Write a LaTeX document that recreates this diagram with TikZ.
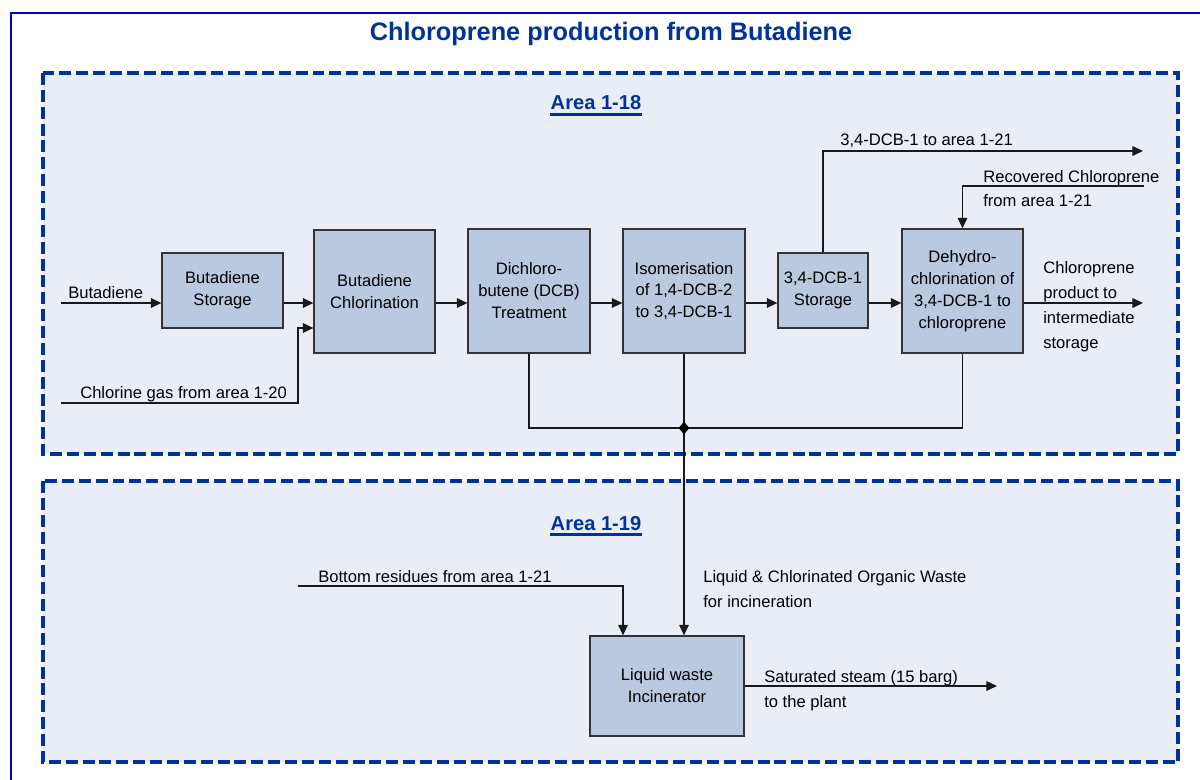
\documentclass[tikz,border=0pt]{standalone}
\usepackage{fontspec}
\setmainfont{Liberation Sans}
\usetikzlibrary{arrows.meta,shapes.geometric,calc}
\definecolor{framecol}{RGB}{0,0,204}
\definecolor{areacol}{RGB}{0,51,153}
\definecolor{areafill}{RGB}{233,237,245}
\definecolor{boxfill}{RGB}{185,201,224}
\newcommand\pxu{0.025cm}
\newcommand\boxfont{\fontsize{11.8}{15.6}\selectfont}
\newcommand\lblfont{\fontsize{11.8}{17.7}\selectfont}
\newcommand\titlefnt{\fontsize{18}{22}\selectfont\bfseries}
\newcommand\areafnt{\fontsize{14.3}{17}\selectfont\bfseries}
\tikzset{
  pbox/.style={draw=black!80, line width=0.9pt, fill=boxfill, align=center, inner sep=0pt, font=\boxfont},
  conn/.style={draw=black!90, line width=0.9pt},
  arr/.style={conn, -{Triangle[length=7.5pt,width=6.8pt]}},
  lbl/.style={inner sep=0pt, anchor=base west, align=left, font=\lblfont},
  areabox/.style={draw=areacol, line width=2.2pt, dash pattern=on 8.5pt off 3.5pt, fill=areafill},
  arealbl/.style={text=areacol, font=\areafnt, inner sep=0pt, anchor=base},
  ulin/.style={draw=areacol, line width=1.5pt},
}
\begin{document}
\begin{tikzpicture}[x=0.025cm,y=-0.025cm]
\useasboundingbox (0,0) rectangle (1200,780);
\clip (0,0) rectangle (1200,780);
\fill[white] (0,0) rectangle (1200,780);
% outer frame
\draw[framecol, line width=2.1pt] (11,800) -- (11,13) -- (1230,13);
% title
\node[font=\titlefnt, text=areacol, anchor=base, inner sep=0pt] (title) at (611,41) {Chloroprene production from Butadiene};
% areas
\draw[areabox] (43,73) rectangle (1178,454);
\draw[areabox] (43,481) rectangle (1178,762);
\node[arealbl] (a18) at (596,110) {Area 1-18};
\draw[ulin] ($(a18.base west)+(0,4.5)$) -- ($(a18.base east)+(0,4.5)$);
\node[arealbl] (a19) at (596,530) {Area 1-19};
\draw[ulin] ($(a19.base west)+(0,4.5)$) -- ($(a19.base east)+(0,4.5)$);
% process boxes
\node[pbox, minimum width=121*\pxu, minimum height=75*\pxu] (bst) at (222.5,290.5) {Butadiene\\Storage};
\node[pbox, minimum width=121*\pxu, minimum height=123*\pxu] (chl) at (374.5,291.5) {Butadiene\\Chlorination};
\node[pbox, minimum width=122*\pxu, minimum height=124*\pxu] (dcb) at (529,291) {Dichloro-\\butene (DCB)\\Treatment};
\node[pbox, minimum width=122*\pxu, minimum height=124*\pxu] (iso) at (684,291) {Isomerisation\\of 1,4-DCB-2\\to 3,4-DCB-1};
\node[pbox, minimum width=90*\pxu, minimum height=75*\pxu] (st34) at (823,290.5) {3,4-DCB-1\\Storage};
\node[pbox, minimum width=121*\pxu, minimum height=124*\pxu] (deh) at (962.5,291) {Dehydro-\\chlorination of\\3,4-DCB-1 to\\chloroprene};
\node[pbox, minimum width=154*\pxu, minimum height=100*\pxu] (inc) at (667,686) {Liquid waste\\Incinerator};
% free ends
\coordinate (lvl) at (0,303);
\coordinate (bin) at (61,303);
\coordinate (clin) at (61,403);
\coordinate (clturn) at (298,328);
\coordinate (dcbout) at (1143,151);
\coordinate (recin) at (1144,186);
\coordinate (prodout) at (1143,303);
\coordinate (junc) at (684,428);
\coordinate (resin) at (298,586);
\coordinate (steamout) at (997,686);
% connectors
\draw[arr] (bin) -- (bst.west |- lvl);
\draw[arr] (bst.east |- lvl) -- (chl.west |- lvl);
\draw[arr] (clin) -| (clturn) -- (chl.west |- clturn);
\draw[arr] (chl.east |- lvl) -- (dcb.west |- lvl);
\draw[arr] (dcb.east |- lvl) -- (iso.west |- lvl);
\draw[arr] (iso.east |- lvl) -- (st34.west |- lvl);
\draw[arr] (st34.east |- lvl) -- (deh.west |- lvl);
\draw[arr] (deh.east |- lvl) -- (prodout);
\draw[arr] (st34.north) |- (dcbout);
\draw[arr] (recin) -| (deh.north);
\draw[conn] (dcb.south) |- (junc) -| (deh.south);
\draw[arr] (iso.south) -- (junc) -- (inc.north -| junc);
\draw[arr] (resin) -| ($(inc.north)+(-44,0)$);
\draw[arr] (inc.east) -- (steamout);
\node[diamond, fill=black, inner sep=0pt, minimum width=11*\pxu, minimum height=13*\pxu] (jd) at (junc) {};
% labels (base = baseline of last line)
\node[lbl] (lbut) at (68,299) {Butadiene};
\node[lbl] (lcl) at (80,398) {Chlorine gas from area 1-20};
\node[lbl] (ldcb) at (840,146) {3,4-DCB-1 to area 1-21};
\node[lbl] (lrec) at (983,207) {Recovered Chloroprene\\from area 1-21};
\node[lbl] (lprod) at (1043,348) {Chloroprene\\product to\\intermediate\\storage};
\node[lbl] (lres) at (318,582) {Bottom residues from area 1-21};
\node[lbl] (lliq) at (703,607) {Liquid \& Chlorinated Organic Waste\\for incineration};
\node[lbl] (lsteam) at (764,707) {Saturated steam (15 barg)\\to the plant};
\end{tikzpicture}
\end{document}
